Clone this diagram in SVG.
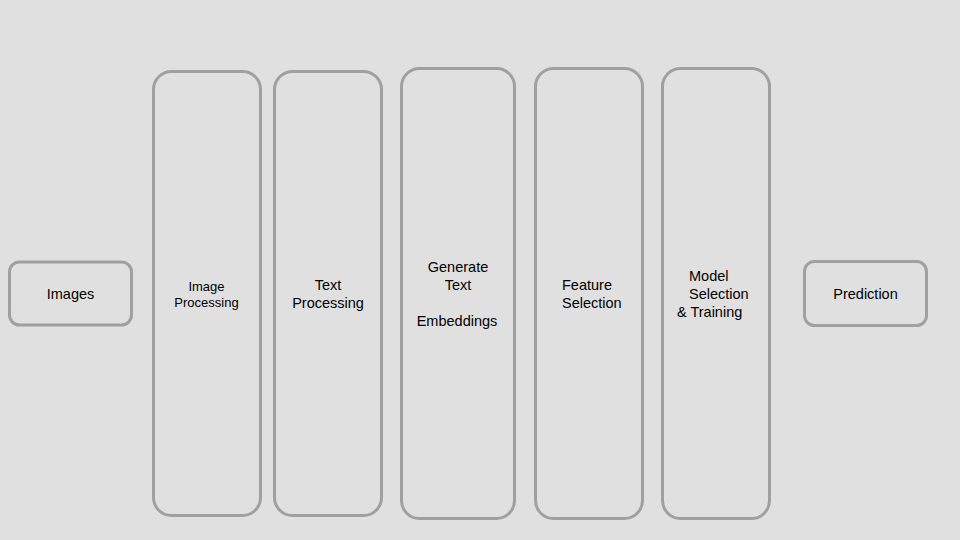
<svg xmlns="http://www.w3.org/2000/svg" width="960" height="540" viewBox="0 0 960 540">
<style>
.box{fill:#e0e0e0;stroke:#a0a0a0;stroke-width:3}
text{font-family:"Liberation Sans",Arial,sans-serif;font-size:14.5px;fill:#000}
.c{text-anchor:middle}
.s{font-size:13px}
</style>
<rect width="960" height="540" fill="#e0e0e0"/>
<g id="connectors"></g>
<g id="images">
<rect class="box" x="9.5" y="262" width="122" height="63" rx="10"/>
<text class="c" x="70.5" y="299">Images</text>
</g>
<g id="image-processing">
<rect class="box" x="153.5" y="71.5" width="107" height="444" rx="18"/>
<text class="c s" x="206.5" y="291">Image</text>
<text class="c s" x="206.5" y="307">Processing</text>
</g>
<g id="text-processing">
<rect class="box" x="274.5" y="71.5" width="107" height="444" rx="18"/>
<text class="c" x="328" y="290">Text</text>
<text class="c" x="328" y="308">Processing</text>
</g>
<g id="generate-text-embeddings">
<rect class="box" x="401.5" y="68.5" width="113" height="450" rx="18"/>
<text class="c" x="458" y="272">Generate</text>
<text class="c" x="458" y="290">Text</text>
<text class="c" x="457" y="326">Embeddings</text>
</g>
<g id="feature-selection">
<rect class="box" x="535.5" y="68.5" width="107" height="450" rx="18"/>
<text x="562" y="290">Feature</text>
<text x="562" y="308">Selection</text>
</g>
<g id="model-selection">
<rect class="box" x="662.5" y="68.5" width="107" height="450" rx="18"/>
<text x="689" y="281">Model</text>
<text x="689" y="299">Selection</text>
<text x="677" y="317">&amp; Training</text>
</g>
<g id="prediction">
<rect class="box" x="804.5" y="261.5" width="122" height="64" rx="10"/>
<text class="c" x="865.5" y="299">Prediction</text>
</g>
</svg>
